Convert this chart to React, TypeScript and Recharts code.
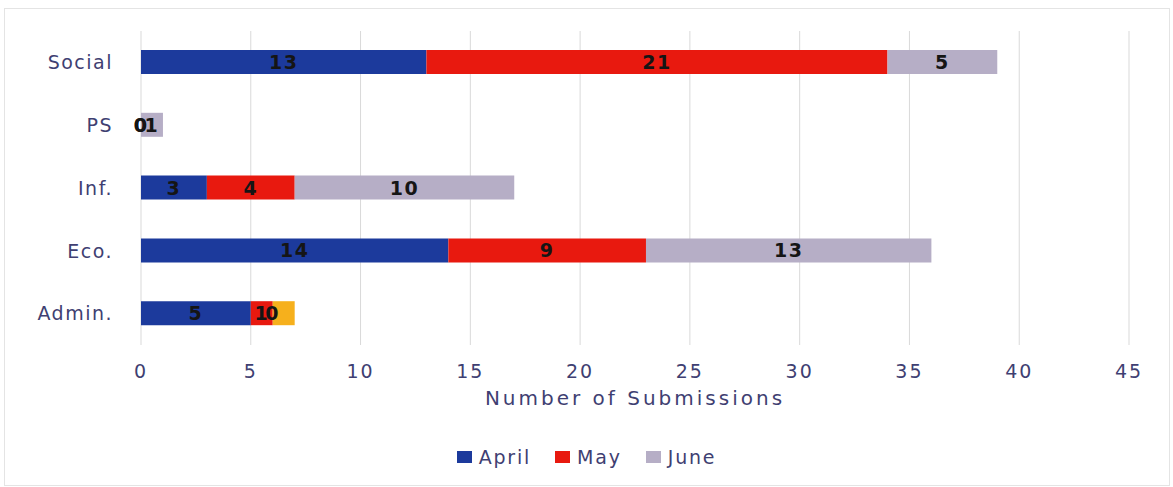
import {Bar, BarChart, CartesianGrid, Legend, Rectangle, XAxis, YAxis} from "recharts";

const categories = ["Social", "PS", "Inf.", "Eco.", "Admin."];
const april = [13, 0, 3, 14, 5];
const may = [21, 0, 4, 9, 1];
const june = [5, 1, 10, 13, 0];
const other = [0, 0, 0, 0, 1];
const xTicks = [0, 5, 10, 15, 20, 25, 30, 35, 40, 45];
const xMax = 45;
const labelledKeys = ["april", "may", "june"];

const textColor = "#3f3f72";
const font = "'DejaVu Sans', sans-serif";

const rows = categories.map((name, i) => ({
    name,
    april: april[i],
    may: may[i],
    june: june[i],
    other: other[i],
}));

const legendItems = [
    {label: "April", color: "#1c3a9c"},
    {label: "May", color: "#e8190f"},
    {label: "June", color: "#b6aec6"},
];

function ChartLegend() {
    return <div style={{display: "flex", justifyContent: "center", gap: 24, fontFamily: font, fontSize: 19, letterSpacing: 1.8, color: textColor}}>
        {legendItems.map(item => (
            <div key={item.label} style={{display: "flex", alignItems: "center", gap: 7}}>
                <span style={{display: "inline-block", width: 15, height: 12, background: item.color}}/>
                <span>{item.label}</span>
            </div>
        ))}
    </div>
}

function SegmentText({x, y, value}: { x: number, y: number, value: number }) {
    return <text
        x={x}
        y={y}
        textAnchor="middle"
        dominantBaseline="central"
        fill="#151515"
        fontSize={19}
        fontWeight={600}
        letterSpacing={1.5}
        fontFamily={font}
    >{value}</text>
}

function PlainSegment(props: any) {
    return props.width > 0 ? <Rectangle {...props}/> : <g/>
}

// last series of the stack: draws its own rect, then every value label of the row on top,
// so labels of empty segments stay visible as in the original
function LastSegment(props: any) {
    const {y, height, payload, background} = props;
    const unit = background.width / xMax;
    let start = 0;
    const labels = labelledKeys.map(key => {
        const v = payload[key];
        const cx = background.x + (start + v / 2) * unit;
        start += v;
        return <SegmentText key={key} x={cx} y={y + height / 2} value={v}/>
    });
    return <g>
        {props.width > 0 && <Rectangle {...props}/>}
        {labels}
    </g>
}

export default function App() {
    return <div style={{position: "absolute", left: 0, top: 0, width: 1173, height: 487, background: "#fff"}}>
        <div style={{position: "absolute", left: 4, top: 8, width: 1164, height: 476, border: "1px solid #e4e4e4"}}/>
        <BarChart
            width={1173}
            height={487}
            data={rows}
            layout="vertical"
            barSize={24}
            margin={{top: 31, right: 44, bottom: 50, left: 0}}
        >
            <CartesianGrid horizontal={false} stroke="#d9d9d9"/>
            <XAxis
                type="number"
                domain={[0, xMax]}
                ticks={xTicks}
                axisLine={false}
                tickLine={false}
                height={70}
                tick={{fill: textColor, fontSize: 19, fontFamily: font, letterSpacing: 2}}
                tickMargin={14}
                label={{value: "Number of Submissions", position: "insideBottom", offset: 10, fill: textColor, fontSize: 20, fontFamily: font, letterSpacing: 3}}
            />
            <YAxis
                type="category"
                dataKey="name"
                width={141}
                axisLine={false}
                tickLine={false}
                tickMargin={22}
                tick={{fill: textColor, fontSize: 19, fontFamily: font, letterSpacing: 1.5}}
            />
            <Bar dataKey="april" stackId="a" fill="#1c3a9c" isAnimationActive={false} shape={PlainSegment}/>
            <Bar dataKey="may" stackId="a" fill="#e8190f" isAnimationActive={false} shape={PlainSegment}/>
            <Bar dataKey="june" stackId="a" fill="#b6aec6" isAnimationActive={false} shape={PlainSegment}/>
            <Bar dataKey="other" stackId="a" fill="#f6b01c" isAnimationActive={false} legendType="none" shape={LastSegment}/>
            <Legend content={<ChartLegend/>} wrapperStyle={{top: 446, left: 0, width: 1173}}/>
        </BarChart>
    </div>
}
